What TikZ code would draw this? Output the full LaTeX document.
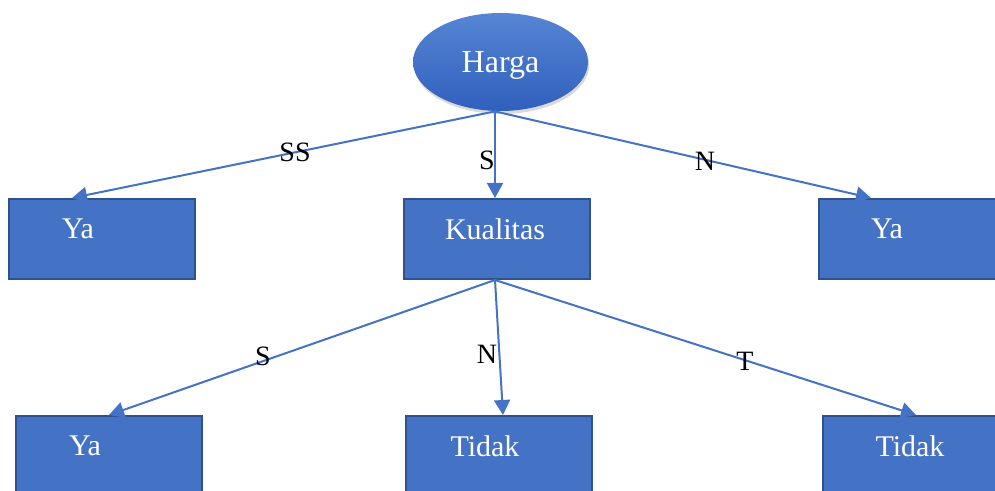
\documentclass[tikz,border=0pt]{standalone}
\usepackage{fontspec}
\setmainfont{Liberation Serif}
\usetikzlibrary{shapes,positioning,arrows.meta,shadows}
\definecolor{boxblue}{HTML}{4472C4}
\definecolor{edgeblue}{HTML}{2F528F}
\definecolor{ovaltop}{HTML}{5685D4}
\definecolor{ovalbot}{HTML}{3060BC}

\begin{document}
\begin{tikzpicture}[x=0.5pt,y=-0.5pt,
box/.style={shape=rectangle,draw=edgeblue,fill=boxblue,line width=1pt,minimum width=93pt,minimum height=40pt,inner sep=0pt},
boxtxt/.style={text=white,font=\fontsize{15}{18}\selectfont,text depth=0pt,inner sep=0pt},
lbl/.style={font=\fontsize{14}{17}\selectfont,text depth=0pt,inner sep=0pt},
link/.style={draw=boxblue,line width=1pt,-{Triangle[length=7.5pt,width=8pt]}}]
\useasboundingbox (0,0) rectangle (995,491);
\clip (0,0) rectangle (995,491);

\node[shape=ellipse,minimum width=87.5pt,minimum height=49pt,inner sep=0pt,top color=ovaltop,bottom color=ovalbot,
drop shadow={opacity=0.3,shadow xshift=0.6pt,shadow yshift=-1.5pt},text=white,font=\fontsize{16}{19}\selectfont,text depth=0pt] (harga) at (500.5,62) {Harga};
\coordinate (hb) at ([xshift=-2.75pt]harga.south);

\node[box] (ya1) at (102,239) {};
\node[box] (kual) at (496.5,239) {};
\node[box] (ya2) at (912,239) {};
\node[box] (ya3) at (109,456) {};
\node[box] (tdk1) at (499,456) {};
\node[box] (tdk2) at (916,456) {};

\node[boxtxt] (ya1-t) at (78,229) {Ya};
\node[boxtxt] (kual-t) at (495,229) {Kualitas};
\node[boxtxt] (ya2-t) at (887,229) {Ya};
\node[boxtxt] (ya3-t) at (85,446) {Ya};
\node[boxtxt] (tdk1-t) at (485,446) {Tidak};
\node[boxtxt] (tdk2-t) at (910,446) {Tidak};

\coordinate (kb) at (hb |- kual.south);

\draw[link] (hb) -- ([xshift=32pt]ya1.north west);
\draw[link] (hb) -- (hb |- kual.north);
\draw[link] (hb) -- ([xshift=26.5pt]ya2.north west);
\draw[link] (kb) -- ([xshift=47pt]ya3.north west);
\draw[link] (kb) -- ([xshift=49pt]tdk1.north west);
\draw[link] (kb) -- ([xshift=47pt]tdk2.north west);

\node[lbl] (l-ss) at (295,152) {SS};
\node[lbl] (l-s1) at (487,160) {S};
\node[lbl] (l-n1) at (705,161) {N};
\node[lbl] (l-s2) at (263,356) {S};
\node[lbl] (l-n2) at (487,354) {N};
\node[lbl] (l-t) at (745,361) {T};
\end{tikzpicture}
\end{document}
